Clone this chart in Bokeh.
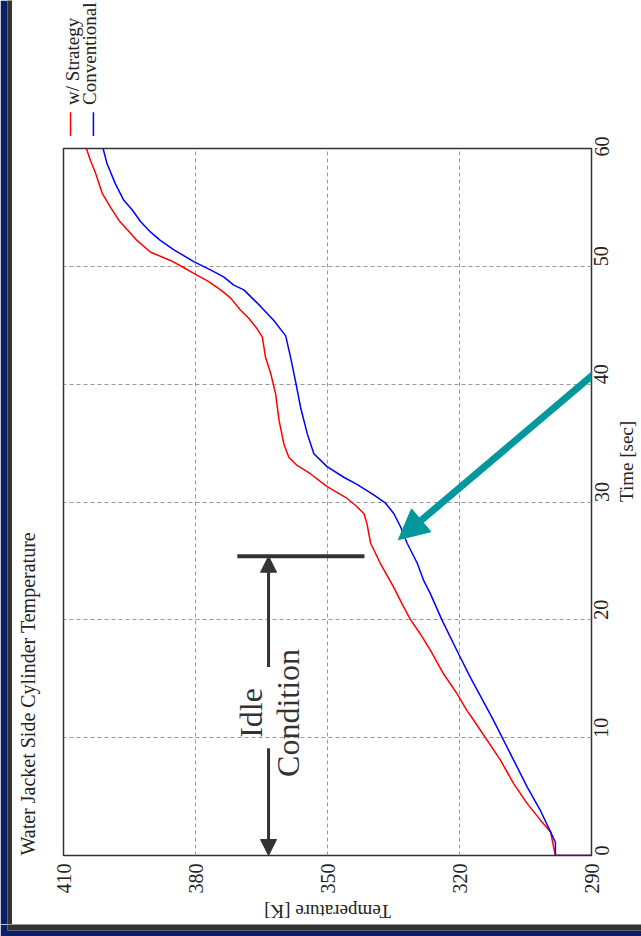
import math
from bokeh.plotting import figure
from bokeh.layouts import column, row
from bokeh.models import Range1d, FixedTicker, Label, Arrow, NormalHead, LinearAxis
from bokeh.core.properties import value
from bokeh.embed import file_html
from bokeh.resources import INLINE

# ---- data ----
red_time = [0, 0, 0.7, 2.0, 3.0, 4.4, 6.1, 8.1, 11.5, 12.3, 13.7, 15.4, 17.4, 18.8, 20.0,
            21.1, 22.8, 24.8, 26.5, 28.1, 29.0, 29.7, 30.4, 31.3, 32.4, 33.1, 33.8, 34.9,
            36.9, 39.2, 40.9, 42.3, 44.0, 44.7, 45.6, 46.3, 47.3, 48.0, 48.7, 49.4, 49.9,
            50.5, 51.2, 52.2, 53.1, 53.9, 55.0, 56.2, 57.9, 59.0, 60.0]
red_temp = [290, 298.2, 298.6, 299.3, 301.6, 304.6, 307.7, 310.7, 316.8, 318.3, 320.5, 323.6,
            326.6, 328.9, 331.1, 332.7, 335.0, 338.0, 340.2, 341.0, 341.7, 343.6, 345.9,
            350.1, 353.9, 356.9, 358.8, 359.9, 361.0, 361.8, 362.9, 364.1, 364.8, 366.0,
            367.9, 369.8, 372.0, 374.3, 377.0, 380.4, 382.7, 385.7, 390.2, 393.3, 395.5,
            397.4, 399.3, 401.2, 402.7, 403.9, 404.8]

blue_time = [0, 0, 1.1, 2.0, 3.8, 5.8, 8.1, 11.7, 15.1, 17.1, 20.0, 22.2, 23.3, 24.8, 26.5,
             27.9, 29.0, 29.9, 30.6, 31.5, 32.1, 33.0, 34.1, 35.8, 38.0, 40.3, 42.3, 44.1,
             45.4, 46.6, 48.0, 48.4, 49.1, 49.7, 50.4, 51.4, 52.2, 52.9, 53.8, 54.8, 55.6,
             57.0, 58.7, 60.0]
blue_temp = [290, 298.2, 298.2, 299.3, 301.6, 304.6, 307.7, 312.6, 317.5, 320.2, 324.0, 326.6,
             328.1, 329.6, 331.9, 333.4, 334.9, 336.8, 339.5, 343.3, 346.3, 350.1, 353.1,
             354.6, 356.1, 357.3, 358.4, 359.5, 362.2, 365.2, 369.0, 371.3, 373.6, 376.6,
             380.4, 384.9, 388.0, 390.2, 392.5, 394.4, 396.3, 398.2, 400.1, 401.0]

temp_ticks = [290, 320, 350, 380, 410]
time_ticks = [0, 10, 20, 30, 40, 50, 60]

series_names = ["w/ Strategy", "Conventional"]
series_colors = ["#ff0000", "#0000ff"]

title_text = "Water Jacket Side Cylinder Temperature"
x_label = "Temperature [K]"
y_label = "Time [sec]"
y_label_at = 30

# idle-condition annotation (time span, temperature position)
idle_start, idle_end = 0.0, 25.4
idle_temp = 363.4
idle_bar = [370.5, 341.6]
idle_gap = [9.1, 16.0]

# teal pointer arrow (start -> tip)
pointer = [(278.6, 44.3), (333.9, 26.8)]

# legend sample positions (temperature units across, time units up)
legend_x = [408.4, 403.2]
legend_text_x = [408.0, 404.1]
legend_line_t = [60.7, 63.07]
legend_text_t = 63.7

SERIF = "Liberation Serif"
DARK = "#333333"
TEXT = "#222222"
NAVY = "#0c1f66"
PX_PER_SEC = 11.78

LEFT_PAD = 12     # space left of the frame inside the chart column
RIGHT_PAD = 50


def blank(**kw):
    f = figure(output_backend="svg", toolbar_location=None,
               x_axis_location=None, y_axis_location=None, **kw)
    f.outline_line_color = None
    f.xgrid.visible = False
    f.ygrid.visible = False
    f.background_fill_color = "white"
    f.border_fill_color = "white"
    return f


x_rng = Range1d(410, 290)
y_rng = Range1d(0, 60)

# ---------- slide frame decoration ----------
leftbar = blank(frame_width=5, frame_height=924, x_range=Range1d(0, 1), y_range=Range1d(0, 1),
                min_border_left=7, min_border_right=0, min_border_top=0, min_border_bottom=0)
leftbar.border_fill_color = NAVY
leftbar.background_fill_color = DARK

bottombar = blank(frame_width=634, frame_height=6, x_range=Range1d(0, 1), y_range=Range1d(0, 1),
                  min_border_left=7, min_border_right=0, min_border_top=0, min_border_bottom=6)
bottombar.border_fill_color = NAVY
bottombar.background_fill_color = DARK

# ---------- title strip (left) ----------
tstrip = blank(frame_width=51 - 12, frame_height=924, x_range=Range1d(12, 51),
               y_range=Range1d(924, 0),
               min_border_left=0, min_border_right=0, min_border_top=0, min_border_bottom=0)
tstrip.text(x=[27.5], y=[855], text=[title_text], angle=math.pi / 2,
            text_align="left", text_baseline="middle", text_font=value(SERIF),
            text_font_size="20px", text_color=TEXT)

# ---------- top strip holding the rotated legend ----------
top_h = 136
leg = blank(frame_width=528, frame_height=top_h, x_range=x_rng,
            y_range=Range1d(60 + 12 / PX_PER_SEC, 60 + (12 + top_h) / PX_PER_SEC),
            min_border_left=LEFT_PAD, min_border_right=RIGHT_PAD,
            min_border_top=0, min_border_bottom=0)
leg.segment(x0=legend_x, y0=[legend_line_t[0]] * 2, x1=legend_x, y1=[legend_line_t[1]] * 2,
            line_color=series_colors, line_width=1.5)
leg.text(x=legend_text_x, y=[legend_text_t] * 2, text=series_names, angle=math.pi / 2,
         text_align="left", text_baseline="middle", text_font=value(SERIF),
         text_font_size="19px", text_color=TEXT)

# ---------- main chart ----------
p = figure(frame_width=528, frame_height=707, x_range=x_rng, y_range=y_rng,
           x_axis_location="below", y_axis_location="right",
           min_border_left=LEFT_PAD, min_border_right=RIGHT_PAD,
           min_border_top=12, min_border_bottom=43,
           output_backend="svg", toolbar_location=None)
p.background_fill_color = "white"
p.border_fill_color = "white"
p.outline_line_color = DARK
p.outline_line_width = 1.5

# second right axis that only carries the rotated time-axis title
title_axis = LinearAxis(ticker=FixedTicker(ticks=[y_label_at]),
                        major_label_overrides={y_label_at: y_label})
p.add_layout(title_axis, "right")

for ax in (p.xaxis[0], p.yaxis[0], title_axis):
    ax.axis_line_color = None
    ax.major_tick_line_color = None
    ax.minor_tick_line_color = None
    ax.major_tick_out = 0
    ax.minor_tick_out = 0
    ax.major_label_text_font = SERIF
    ax.major_label_text_font_size = "20px"
    ax.major_label_text_color = TEXT
    ax.major_label_orientation = math.pi / 2
title_axis.major_label_text_font_size = "19px"
title_axis.major_label_standoff = 8
p.xaxis[0].ticker = FixedTicker(ticks=temp_ticks)
p.yaxis[0].ticker = FixedTicker(ticks=time_ticks)
p.xaxis[0].major_label_standoff = 8
p.yaxis[0].major_label_standoff = 10

p.xgrid.ticker = FixedTicker(ticks=temp_ticks)
p.ygrid.ticker = FixedTicker(ticks=time_ticks)
for g in (p.xgrid[0], p.ygrid[0]):
    g.grid_line_color = "#999999"
    g.grid_line_dash = "4 3"
    g.grid_line_width = 1

p.line(red_temp, red_time, line_color=series_colors[0], line_width=1.5)
p.line(blue_temp, blue_time, line_color=series_colors[1], line_width=1.5)

# idle condition bar and double arrow
p.segment(x0=[idle_bar[0]], y0=[idle_end], x1=[idle_bar[1]], y1=[idle_end],
          line_color=DARK, line_width=4)
p.add_layout(Arrow(x_start=idle_temp, y_start=idle_gap[1], x_end=idle_temp, y_end=idle_end,
                   line_color=DARK, line_width=3,
                   end=NormalHead(size=16, fill_color=DARK, line_color=DARK)))
p.add_layout(Arrow(x_start=idle_temp, y_start=idle_gap[0], x_end=idle_temp, y_end=idle_start,
                   line_color=DARK, line_width=3,
                   end=NormalHead(size=16, fill_color=DARK, line_color=DARK)))
p.add_layout(Label(x=367.3, y=12.1, text="Idle", angle=math.pi / 2,
                   text_align="center", text_baseline="middle",
                   text_font=SERIF, text_font_size="32px", text_color=DARK))
p.add_layout(Label(x=358.9, y=12.1, text="Condition", angle=math.pi / 2,
                   text_align="center", text_baseline="middle",
                   text_font=SERIF, text_font_size="32px", text_color=DARK))

# teal pointer
p.add_layout(Arrow(x_start=pointer[0][0], y_start=pointer[0][1],
                   x_end=pointer[1][0], y_end=pointer[1][1],
                   line_color="#00989c", line_width=7,
                   end=NormalHead(size=30, fill_color="#00989c", line_color="#00989c")))

# ---------- bottom strip: temperature axis title (upside down) ----------
bstrip = blank(frame_width=528, frame_height=26, x_range=x_rng, y_range=Range1d(0, 1),
               min_border_left=LEFT_PAD, min_border_right=RIGHT_PAD,
               min_border_top=0, min_border_bottom=0)
bstrip.text(x=[350], y=[0.5], text=[x_label], angle=math.pi,
            text_align="center", text_baseline="middle", text_font=value(SERIF),
            text_font_size="19px", text_color=TEXT)

layout = column(
    row(leftbar, tstrip, column(leg, p, bstrip, spacing=0), spacing=0),
    bottombar, spacing=0)
open("out.html", "w").write(file_html(layout, INLINE))
